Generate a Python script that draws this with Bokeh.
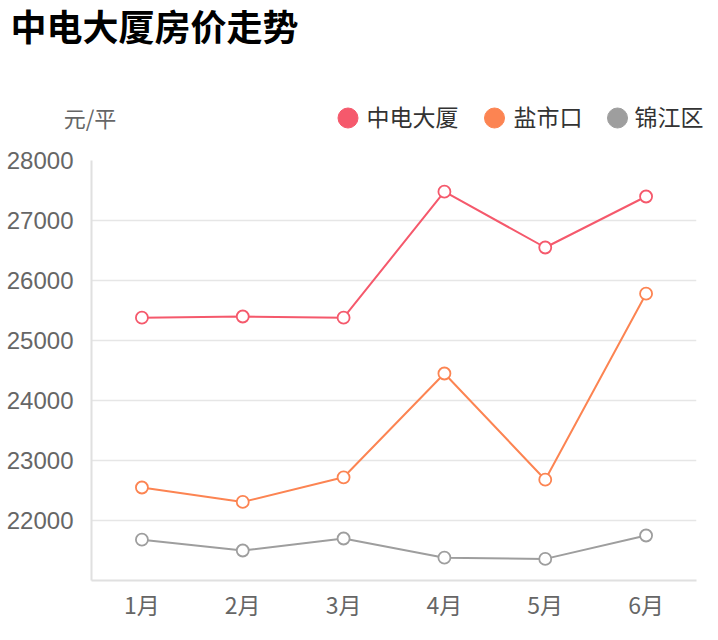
from bokeh.plotting import figure
from bokeh.layouts import column
from bokeh.models import ColumnDataSource, FactorRange, Range1d, FixedTicker
from bokeh.core.properties import value
from bokeh.embed import file_html
from bokeh.resources import INLINE

months = ["1月", "2月", "3月", "4月", "5月", "6月"]
zhongdian = [25380, 25400, 25380, 27480, 26550, 27400]
yanshikou = [22550, 22310, 22720, 24450, 22680, 25780]
jinjiang = [21680, 21500, 21700, 21380, 21360, 21750]
series_names = ["中电大厦", "盐市口", "锦江区"]
colors = ["#F5596C", "#FC8452", "#9E9E9E"]
y_ticks = [21000, 22000, 23000, 24000, 25000, 26000, 27000, 28000]
title_text = "中电大厦房价走势"
unit_text = "元/平"

FONT = "Liberation Sans"
CJK = "Noto Sans CJK SC"
W = 710
HEAD_H = 135

# ---------- header (title, unit, legend) ----------
h = figure(width=W, height=HEAD_H, x_range=Range1d(0, W), y_range=Range1d(0, HEAD_H),
           output_backend="svg", toolbar_location=None,
           x_axis_location=None, y_axis_location=None,
           min_border_left=0, min_border_right=0, min_border_top=0, min_border_bottom=0)
h.outline_line_color = None
h.grid.visible = False
h.frame_align = False

h.text(x=[10], y=[110.5], text=[title_text], text_font=value(CJK), text_font_size="36px",
       text_font_style="bold", text_color="#000000", text_baseline="middle",
       text_align="left")
h.text(x=[89.5], y=[19], text=[unit_text], text_font=value(CJK), text_font_size="22px",
       text_color="#666666", text_baseline="middle", text_align="center")

leg_cx = [347.5, 494, 617]
leg_tx = [366, 513, 634]
h.scatter(x=leg_cx, y=[17.5] * 3, size=20, fill_color=colors, line_color=colors)
h.text(x=leg_tx, y=[19.5] * 3, text=series_names, text_font=value(CJK),
       text_font_size="23px", text_color="#333333", text_baseline="middle",
       text_align="left")

# ---------- main chart ----------
p = figure(width=W, height=500, x_range=FactorRange(*months),
           y_range=Range1d(21000, 28000), output_backend="svg",
           toolbar_location=None, min_border_left=91, min_border_right=14,
           min_border_top=25, min_border_bottom=55)
p.frame_align = False
p.outline_line_color = None
p.xgrid.grid_line_color = None
p.ygrid.grid_line_color = "#E6E6E6"
p.ygrid.grid_line_width = 1.5
p.ygrid.ticker = FixedTicker(ticks=y_ticks)

p.yaxis.ticker = FixedTicker(ticks=y_ticks)
p.yaxis.major_label_overrides = {21000: ""}
p.yaxis.axis_line_color = "#E0E0E0"
p.yaxis.axis_line_width = 2
p.yaxis.major_tick_line_color = None
p.yaxis.major_tick_out = 0
p.yaxis.major_tick_in = 0
p.yaxis.minor_tick_line_color = None
p.yaxis.major_label_text_font_size = "24px"
p.yaxis.major_label_text_color = "#666666"
p.yaxis.major_label_text_font = FONT
p.yaxis.major_label_standoff = 18

p.xaxis.axis_line_color = "#E0E0E0"
p.xaxis.axis_line_width = 2
p.xaxis.major_tick_line_color = None
p.xaxis.major_tick_out = 0
p.xaxis.major_tick_in = 0
p.xaxis.minor_tick_line_color = None
p.xaxis.major_label_text_font_size = "23px"
p.xaxis.major_label_text_color = "#666666"
p.xaxis.major_label_text_font = CJK
p.xaxis.major_label_standoff = 6

for vals, col in zip([zhongdian, yanshikou, jinjiang], colors):
    src = ColumnDataSource(dict(x=months, y=vals))
    p.line("x", "y", source=src, line_color=col, line_width=2)
    p.scatter("x", "y", source=src, size=12, fill_color="white",
              line_color=col, line_width=1.8)

layout = column(h, p, spacing=0)
open("out.html", "w").write(file_html(layout, INLINE))
